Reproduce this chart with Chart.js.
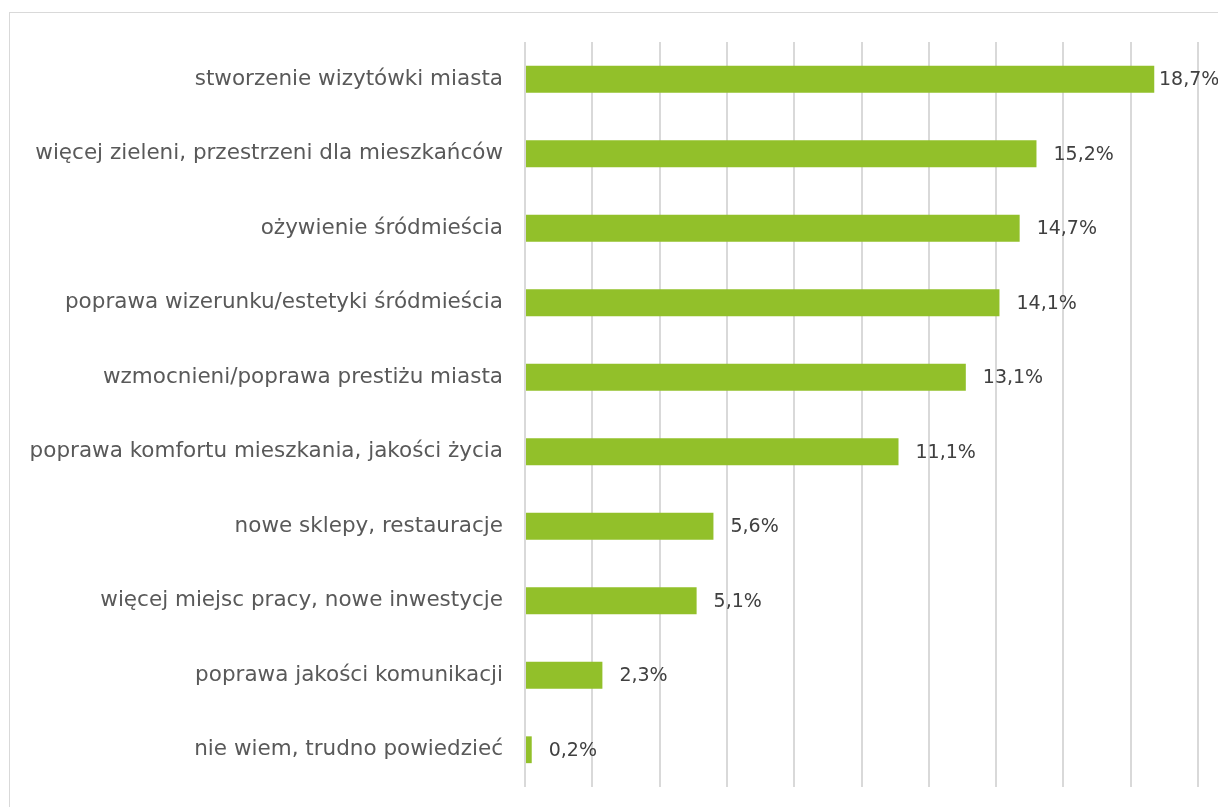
<!DOCTYPE html>
<html>
<head>
<meta charset="utf-8">
<script src="https://cdn.jsdelivr.net/npm/chart.js@4/dist/chart.umd.min.js"></script>
<style>
  html, body { margin: 0; padding: 0; background: #fff; }
  #wrap { position: relative; width: 1218px; height: 807px; overflow: hidden; }
  #frame { position: absolute; left: 9px; top: 12px; width: 1300px; height: 900px; border: 1px solid #d9d9d9; }
  canvas { position: absolute; left: 0; top: 0; }
</style>
</head>
<body>
<div id="wrap">
  <div id="frame"></div>
  <canvas id="chart" width="1218" height="807"></canvas>
</div>
<script>
const categories = [
  "stworzenie wizytówki miasta",
  "więcej zieleni, przestrzeni dla mieszkańców",
  "ożywienie śródmieścia",
  "poprawa wizerunku/estetyki śródmieścia",
  "wzmocnieni/poprawa prestiżu miasta",
  "poprawa komfortu mieszkania, jakości życia",
  "nowe sklepy, restauracje",
  "więcej miejsc pracy, nowe inwestycje",
  "poprawa jakości komunikacji",
  "nie wiem, trudno powiedzieć"
];
const values = [18.7, 15.2, 14.7, 14.1, 13.1, 11.1, 5.6, 5.1, 2.3, 0.2];
const xMax = 20;
const xStep = 2;

const FONT = "DejaVu Sans";

const valueLabels = {
  id: "valueLabels",
  afterDatasetsDraw(chart) {
    const ctx = chart.ctx;
    const meta = chart.getDatasetMeta(0);
    ctx.save();
    ctx.font = "19px '" + FONT + "'";
    ctx.fillStyle = "#404040";
    ctx.textAlign = "left";
    ctx.textBaseline = "middle";
    meta.data.forEach((bar, i) => {
      const txt = values[i].toFixed(1).replace(".", ",") + "%";
      const x = Math.min(bar.x + 17, chart.width - 59);
      ctx.fillText(txt, x, bar.y + 1);
    });
    ctx.restore();
  }
};

new Chart(document.getElementById("chart"), {
  type: "bar",
  data: {
    labels: categories,
    datasets: [{
      data: values,
      backgroundColor: "#92c02a",
      borderWidth: 0,
      categoryPercentage: 0.36,
      barPercentage: 1
    }]
  },
  options: {
    indexAxis: "y",
    responsive: false,
    animation: false,
    layout: { padding: { top: 42, bottom: 20, right: 20, left: 0 } },
    plugins: { legend: { display: false }, tooltip: { enabled: false } },
    scales: {
      x: {
        min: 0,
        max: xMax,
        ticks: { display: false, stepSize: xStep },
        grid: { color: "#d9d9d9", lineWidth: 2, drawTicks: false },
        border: { display: false },
        afterFit(scale) { scale.height = 0; scale.paddingLeft = 0; scale.paddingRight = 0; }
      },
      y: {
        ticks: {
          color: "#595959",
          padding: 22,
          font: { family: FONT, size: 21.5 }
        },
        grid: { display: false, drawTicks: false },
        border: { display: false },
        afterFit(scale) { scale.width = 525; scale.paddingTop = 0; scale.paddingBottom = 0; }
      }
    }
  },
  plugins: [valueLabels]
});
</script>
</body>
</html>
